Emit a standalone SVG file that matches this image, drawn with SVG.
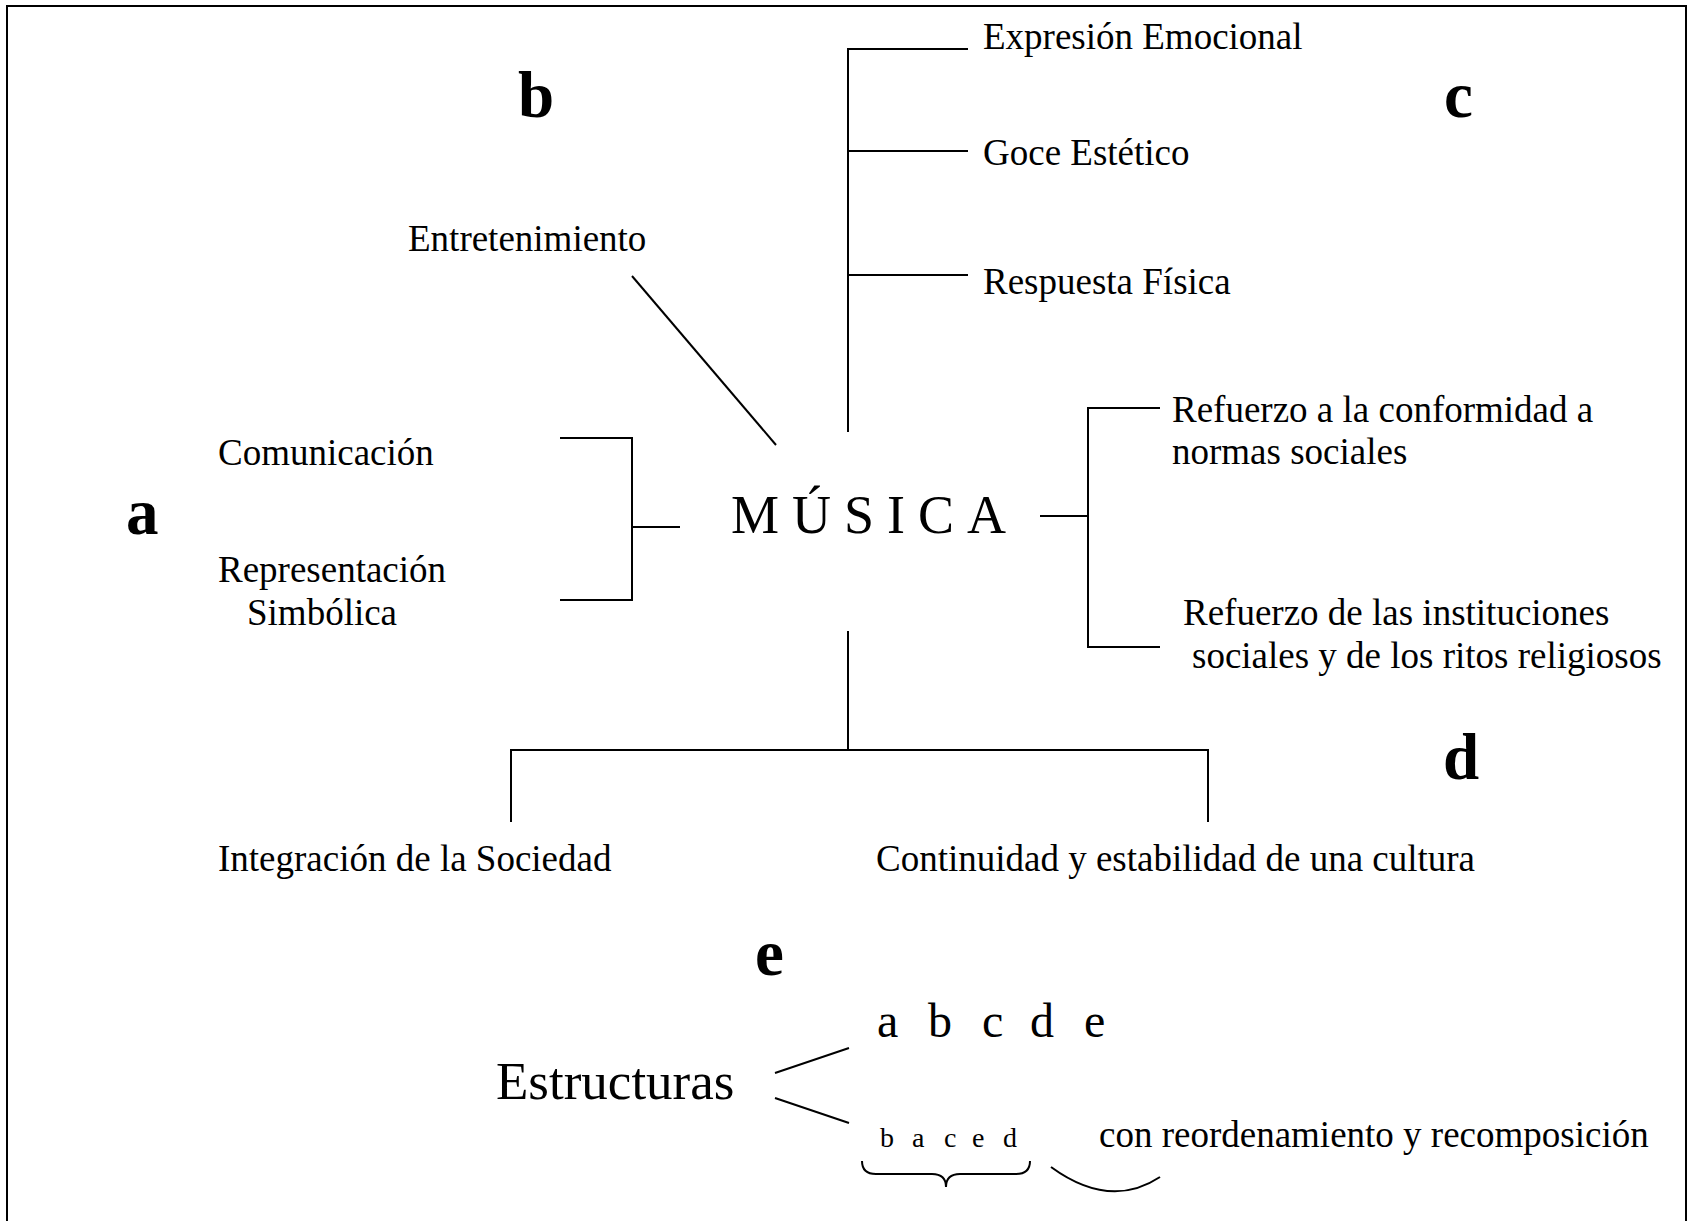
<svg xmlns="http://www.w3.org/2000/svg" width="1691" height="1221" viewBox="0 0 1691 1221">
<style>
text{font-family:"Liberation Serif","Times New Roman",serif;fill:#000}
.t{font-size:37px}
.L{font-size:65px;font-weight:bold}
.ln{stroke:#000;stroke-width:2;fill:none}
</style>
<rect x="0" y="0" width="1691" height="1221" fill="#fff"/>
<rect class="ln" x="7" y="6" width="1679" height="1240"/>
<g id="labels">
<text class="L" x="518" y="117">b</text>
<text class="L" x="1444" y="117">c</text>
<text class="L" x="126" y="534">a</text>
<text class="L" x="1443" y="779">d</text>
<text class="L" x="755" y="975">e</text>
</g>
<g id="musica"><text x="731" y="533" font-size="54" letter-spacing="13">MÚSICA</text></g>
<g id="expresion"><text class="t" x="983" y="49">Expresión Emocional</text></g>
<g id="goce"><text class="t" x="983" y="165">Goce Estético</text></g>
<g id="respuesta"><text class="t" x="983" y="294">Respuesta Física</text></g>
<g id="entretenimiento"><text class="t" x="408" y="251">Entretenimiento</text></g>
<g id="comunicacion"><text class="t" x="218" y="465">Comunicación</text></g>
<g id="representacion"><text class="t" x="218" y="582">Representación</text><text class="t" x="247" y="625">Simbólica</text></g>
<g id="conformidad"><text class="t" x="1172" y="422">Refuerzo a la conformidad a</text><text class="t" x="1172" y="464">normas sociales</text></g>
<g id="instituciones"><text class="t" x="1183" y="625">Refuerzo de las instituciones</text><text class="t" x="1192" y="668">sociales y de los ritos religiosos</text></g>
<g id="integracion"><text class="t" x="218" y="871">Integración de la Sociedad</text></g>
<g id="continuidad"><text class="t" x="876" y="871">Continuidad y estabilidad de una cultura</text></g>
<g id="estructuras"><text x="496" y="1099" font-size="53">Estructuras</text></g>
<g id="abcde"><text x="877 928 982 1030 1084" y="1037" font-size="48">abcde</text></g>
<g id="baced"><text x="880 912 944 972 1003" y="1147" font-size="28">baced</text></g>
<g id="reordenamiento"><text class="t" x="1099" y="1147">con reordenamiento y recomposición</text></g>
<g id="connectors">
<path class="ln" d="M560,438 H632 V600 H560 M632,527 H680"/>
<path class="ln" d="M632,276 L776,445"/>
<path class="ln" d="M968,49 H848 V432 M848,151 H968 M848,275 H968"/>
<path class="ln" d="M1040,516 H1088 M1160,408 H1088 V647 H1160"/>
<path class="ln" d="M848,631 V750 M511,822 V750 H1208 V822"/>
<path class="ln" d="M775,1073 L849,1048 M775,1098 L849,1123"/>
<path class="ln" d="M862,1161 Q862,1174 876,1174 L932,1174 Q946,1174 946,1187 Q946,1174 960,1174 L1016,1174 Q1030,1174 1030,1161"/>
<path class="ln" d="M1051,1167 Q1110,1210 1160,1177"/>
</g>
</svg>
